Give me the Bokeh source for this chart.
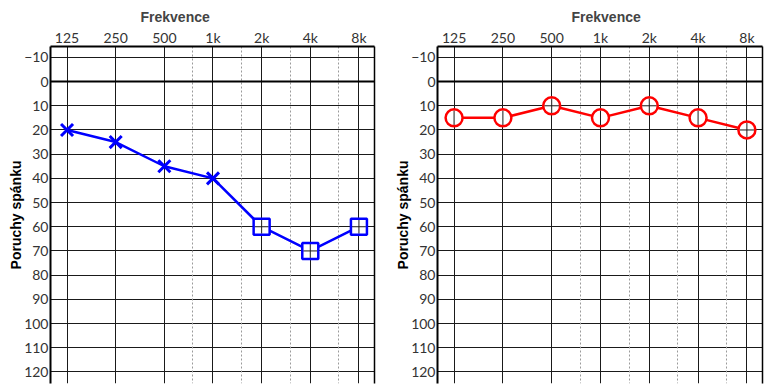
import numpy as np
from bokeh.plotting import figure
from bokeh.layouts import row
from bokeh.models import FixedTicker, Grid, Span, LinearAxis, Range1d, ColumnDataSource
from bokeh.embed import file_html
from bokeh.resources import INLINE

# ---- data ----
freqs = [125, 250, 500, 1000, 2000, 4000, 8000]
freq_labels = ["125", "250", "500", "1k", "2k", "4k", "8k"]
half_octaves = [750, 1500, 3000, 6000]
db_ticks = list(range(-10, 121, 10))

left_db = [20, 25, 35, 40, 60, 70, 60]          # blue series (all freqs)
left_x_freqs = [125, 250, 500, 1000]            # shown with X
left_sq_freqs = [2000, 4000, 8000]              # shown with squares
right_db = [15, 15, 10, 15, 10, 15, 20]         # red series (circles)

BLUE = "#0000FF"
RED = "#FF0000"
GRID = "#1a1a1a"


def xpos(f):
    return float(np.log2(f / freqs[0]))


xticks = [xpos(f) for f in freqs]
half_ticks = [xpos(f) for f in half_octaves]


def make_fig(frame_w, b_left, b_right, title_offset):
    p = figure(frame_width=frame_w, frame_height=337,
               x_range=Range1d(-0.34, 6.32), y_range=Range1d(124.8, -14.5),
               x_axis_location="above", output_backend="svg", toolbar_location=None,
               min_border_left=b_left, min_border_right=b_right,
               min_border_top=46, min_border_bottom=7,
               outline_line_color=None)
    p.title.text = "Frekvence"
    p.title.align = "left"
    p.title.offset = title_offset
    p.title.text_font = "Liberation Sans"
    p.title.text_font_size = "14px"
    p.title.text_font_style = "bold"
    p.title.standoff = 2

    xa = p.xaxis[0]
    xa.ticker = FixedTicker(ticks=xticks)
    xa.major_label_overrides = {t: lab for t, lab in zip(xticks, freq_labels)}
    xa.major_label_text_font = "Lato"
    xa.major_label_text_font_size = "14px"
    xa.major_label_text_color = "#333333"
    xa.major_tick_line_color = None
    xa.minor_tick_line_color = None
    xa.major_tick_out = 0
    xa.major_tick_in = 0
    xa.minor_tick_out = 0
    xa.axis_line_width = 2
    xa.axis_line_color = "black"
    xa.major_label_standoff = 1

    ya = p.yaxis[0]
    ya.ticker = FixedTicker(ticks=db_ticks)
    ya.major_label_text_font = "Lato"
    ya.major_label_text_font_size = "14px"
    ya.major_label_text_color = "#333333"
    ya.major_tick_line_color = None
    ya.minor_tick_line_color = None
    ya.major_tick_out = 0
    ya.major_tick_in = 0
    ya.minor_tick_out = 0
    ya.axis_line_width = 2
    ya.axis_line_color = "black"
    ya.major_label_standoff = 2
    ya.axis_label = "Poruchy spánku"
    ya.axis_label_text_font = "Liberation Sans"
    ya.axis_label_text_font_size = "14px"
    ya.axis_label_text_font_style = "bold"
    ya.axis_label_text_color = "black"
    ya.axis_label_standoff = -3

    ra = LinearAxis(ticker=FixedTicker(ticks=[]), major_label_text_font_size="0px",
                    major_tick_line_color=None, minor_tick_line_color=None,
                    major_tick_out=0, minor_tick_out=0,
                    axis_line_width=1.5, axis_line_color="black")
    p.add_layout(ra, "right")

    p.xgrid.ticker = FixedTicker(ticks=xticks)
    p.xgrid.grid_line_color = GRID
    p.xgrid.grid_line_width = 1
    p.ygrid.ticker = FixedTicker(ticks=db_ticks)
    p.ygrid.grid_line_color = GRID
    p.ygrid.grid_line_width = 1
    p.add_layout(Grid(dimension=0, ticker=FixedTicker(ticks=half_ticks),
                      grid_line_color="#9a9a9a", grid_line_dash="2 2"))
    p.add_layout(Span(location=0, dimension="width", line_color="black", line_width=2))
    return p


def cross_source(fs, dbs):
    marks = ["cross" if d % 10 == 0 else "dash" for d in dbs]
    angs = [0.0 if d % 10 == 0 else np.pi / 2 for d in dbs]
    return ColumnDataSource(dict(x=[xpos(f) for f in fs], y=dbs, m=marks, a=angs))


# ---- left chart ----
p1 = make_fig(324, 50, 13, 90)
p1.line([xpos(f) for f in freqs], left_db, line_color=BLUE, line_width=2.5)
lx_db = left_db[:len(left_x_freqs)]
ls_db = left_db[len(left_x_freqs):]
p1.scatter([xpos(f) for f in left_x_freqs], lx_db, marker="x", size=17,
           line_color=BLUE, line_width=3)
sqx = [xpos(f) for f in left_sq_freqs]
p1.scatter(sqx, ls_db, marker="square", size=16, fill_color="white", line_color=None)
p1.scatter("x", "y", marker="m", angle="a", size=14, line_color=GRID, line_width=1,
           source=cross_source(left_sq_freqs, ls_db))
p1.scatter(sqx, ls_db, marker="square", size=16, fill_color=None,
           line_color=BLUE, line_width=2.5)

# ---- right chart ----
p2 = make_fig(325, 50, 8, 134)
rx = [xpos(f) for f in freqs]
p2.line(rx, right_db, line_color=RED, line_width=2.5)
p2.scatter(rx, right_db, marker="circle", size=17, fill_color="white", line_color=None)
p2.scatter("x", "y", marker="m", angle="a", size=15, line_color=GRID, line_width=1,
           source=cross_source(freqs, right_db))
p2.scatter(rx, right_db, marker="circle", size=17, fill_color=None,
           line_color=RED, line_width=2.5)

layout = row(p1, p2)
open("out.html", "w").write(file_html(layout, INLINE))
